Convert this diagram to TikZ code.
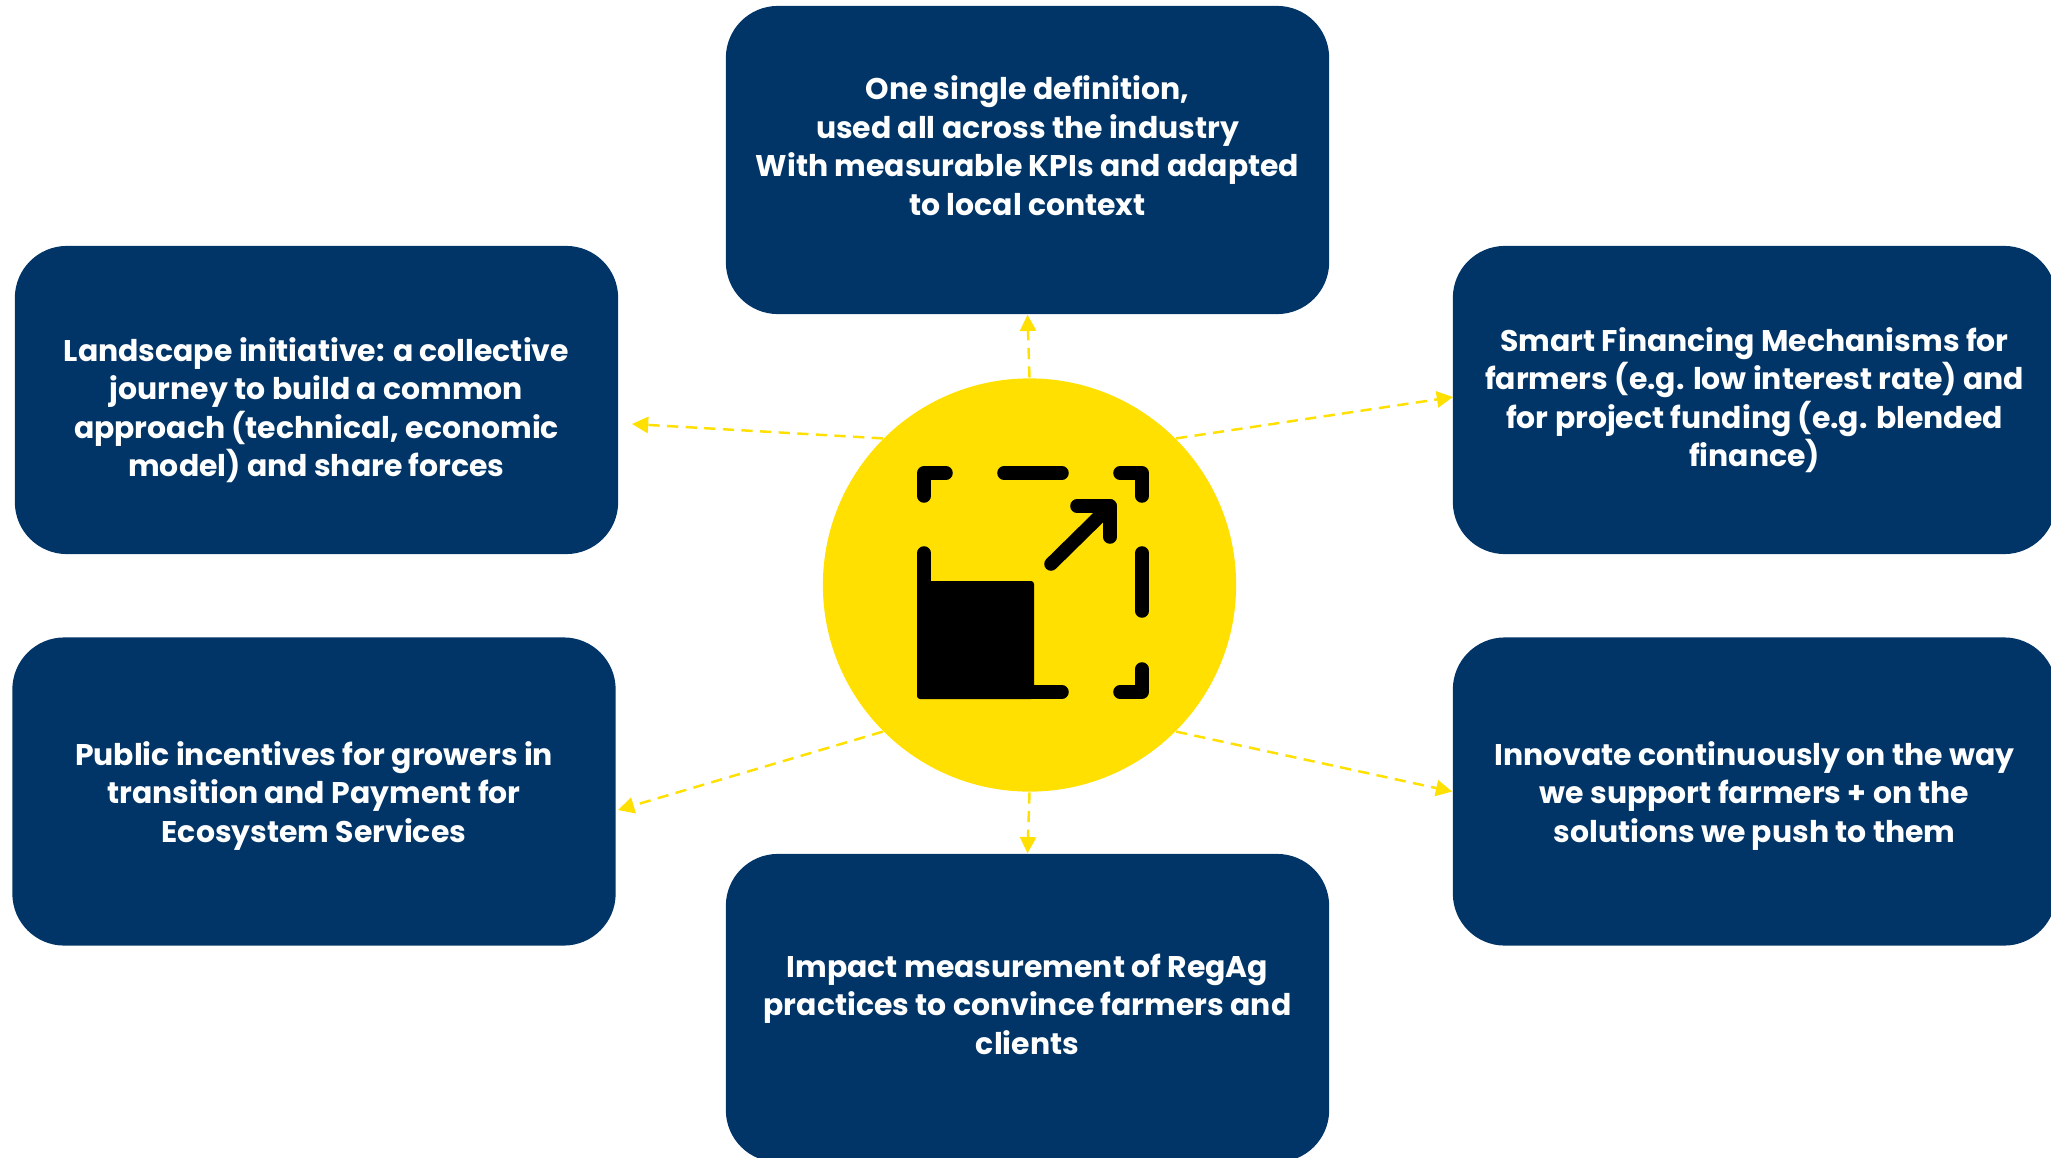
\documentclass[tikz,border=0pt]{standalone}
\usepackage{fontspec}
\setmainfont{Poppins}
\usetikzlibrary{arrows.meta}
\definecolor{navybox}{HTML}{013567}
\definecolor{hubyellow}{HTML}{FFE000}
\newcommand{\lastline}[1]{\\[#1]\mbox{}}
\tikzset{
	infobox/.style={fill=navybox, text=white, rounded corners=0.52cm, minimum width=6.03cm, minimum height=3.08cm, align=center, font=\fontsize{8.5}{10.95}\selectfont\bfseries},
	link/.style={hubyellow, line width=0.7pt, dash pattern=on 3.2pt off 2.1pt, -{Triangle[length=4.6pt,width=4.6pt]}},
	iconline/.style={line width=3.85pt, line cap=round, line join=round}
}
\begin{document}
\begin{tikzpicture}[x=0.01cm, y=-0.01cm]
	\useasboundingbox (0,0) rectangle (2051,1157);
	\node[infobox] (definition) at (1027.5,160) {One single definition,\\used all across the industry\\With measurable KPIs and adapted\\to local context\lastline{-2.6pt}};
	\node[infobox] (landscape) at (316.5,400) {Landscape initiative: a collective\\journey to build a common\\approach (technical, economic\\model) and share forces\lastline{-15pt}};
	\node[infobox] (financing) at (1754.5,400) {Smart Financing Mechanisms for\\farmers (e.g. low interest rate) and\\for project funding (e.g. blended\\finance)};
	\node[infobox] (incentives) at (314,791.5) {Public incentives for growers in\\transition and Payment for\\Ecosystem Services\lastline{-11.2pt}};
	\node[infobox] (innovate) at (1754.5,791.5) {Innovate continuously on the way\\we support farmers + on the\\solutions we push to them\lastline{-11.2pt}};
	\node[infobox] (impact) at (1027.5,1008) {Impact measurement of RegAg\\practices to convince farmers and\\clients\lastline{-8.6pt}};
	\node[fill=hubyellow, circle, minimum size=4.13cm, inner sep=0pt] (hub) at (1029.5,585) {};
	\coordinate (landscapetip) at (632,424);
	\coordinate (financingtip) at (1453,397);
	\coordinate (incentivestip) at (618,810);
	\foreach \from/\to in {hub.north/definition.south, hub.45/financingtip, hub.315/innovate.west, hub.south/impact.north, hub.135/landscapetip, hub.225/incentivestip}
		\draw[link] (\from) -- (\to);
	% icon
	\draw[iconline] (924,496) -- (924,473) -- (946,473);
	\draw[iconline] (1004,473) -- (1062,473);
	\draw[iconline] (1120,473) -- (1142,473) -- (1142,496);
	\draw[iconline] (1142,553) -- (1142,611);
	\draw[iconline] (1142,669) -- (1142,692) -- (1120,692);
	\draw[iconline] (924,553) -- (924,692) -- (1062,692);
	\fill[rounded corners=0.03cm] (917,581) rectangle (1034,699);
	\draw[iconline] (1051,564) -- (1110,506);
	\draw[iconline] (1077,506) -- (1110,506) -- (1110,537);
\end{tikzpicture}
\end{document}
